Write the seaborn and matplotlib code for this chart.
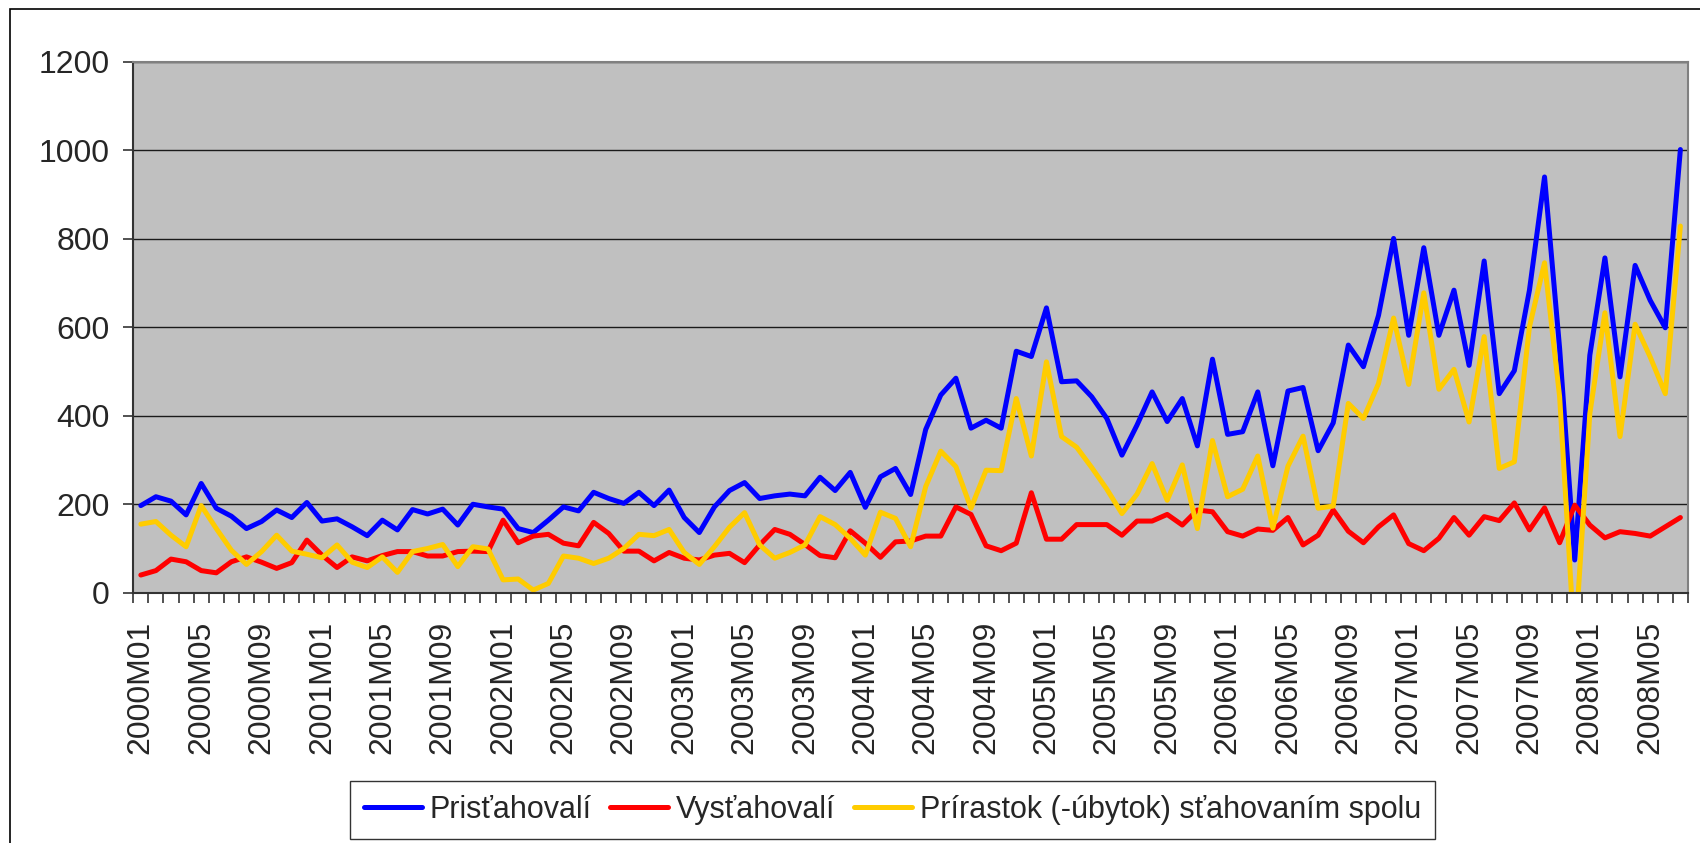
import numpy as np
import pandas as pd
import matplotlib
matplotlib.use("Agg")
import matplotlib.pyplot as plt
from matplotlib.patches import Rectangle
import seaborn as sns

# monthly values 2000M01 .. 2008M07
prist = [197, 217, 207, 176, 247, 191, 173, 145, 161, 187, 170, 204,
         162, 167, 149, 129, 164, 142, 188, 178, 189, 153, 200, 194,
         189, 145, 136, 164, 194, 185, 227, 213, 202, 227, 197, 232,
         170, 136, 194, 231, 249, 213, 219, 223, 219, 261, 231, 272,
         193, 262, 281, 222, 369, 447, 485, 372, 390, 372, 546, 534,
         644, 477, 479, 443, 394, 311, 379, 454, 387, 439, 332, 528,
         358, 364, 454, 287, 456, 464, 321, 384, 560, 511, 627, 801,
         582, 780, 582, 684, 514, 750, 450, 502, 684, 940, 552, 74,
         537, 757, 488, 740, 661, 599, 1002]
vyst = [40, 50, 76, 70, 50, 45, 70, 81, 69, 55, 68, 119,
        85, 57, 81, 72, 84, 93, 93, 83, 83, 93, 94, 93,
        164, 113, 128, 132, 112, 106, 159, 134, 94, 94, 72, 91,
        78, 74, 85, 89, 68, 108, 143, 132, 109, 84, 79, 140,
        112, 80, 115, 117, 128, 128, 194, 177, 106, 95, 112, 226,
        121, 121, 154, 154, 154, 130, 162, 162, 177, 153, 187, 183,
        138, 128, 144, 141, 170, 108, 130, 187, 139, 113, 149, 176,
        111, 95, 123, 170, 130, 172, 163, 203, 142, 192, 113, 198,
        153, 124, 138, 134, 128, 149, 170]
prirastok = [155, 161, 130, 104, 197, 145, 96, 64, 93, 130, 94, 87,
             79, 108, 69, 57, 81, 46, 93, 100, 109, 59, 104, 99,
             29, 31, 6, 21, 83, 78, 66, 78, 100, 132, 129, 143,
             91, 64, 104, 148, 181, 108, 78, 91, 108, 172, 154, 123,
             85, 182, 168, 104, 240, 320, 285, 191, 277, 276, 439, 309,
             522, 353, 329, 283, 234, 179, 223, 292, 209, 289, 145, 344,
             217, 234, 309, 146, 286, 354, 191, 196, 428, 394, 473, 621,
             471, 678, 460, 505, 386, 579, 281, 296, 601, 746, 443, -124,
             405, 633, 353, 607, 533, 450, 829]

tick_labels = ["2000M01", "2000M05", "2000M09", "2001M01", "2001M05", "2001M09",
               "2002M01", "2002M05", "2002M09", "2003M01", "2003M05", "2003M09",
               "2004M01", "2004M05", "2004M09", "2005M01", "2005M05", "2005M09",
               "2006M01", "2006M05", "2006M09", "2007M01", "2007M05", "2007M09",
               "2008M01", "2008M05"]

series = ["Prisťahovalí", "Vysťahovalí", "Prírastok (-úbytok) sťahovaním spolu"]
colors = ["#0000FF", "#FF0000", "#FFCC00"]

n = len(prist)
df = pd.DataFrame({
    "i": np.tile(np.arange(n), 3),
    "value": prist + vyst + prirastok,
    "series": np.repeat(series, n),
})

sns.set_style("white")
plt.rcParams["font.family"] = ["Liberation Sans", "DejaVu Sans"]

fig = plt.figure(figsize=(17, 8.43), dpi=100)
ax = fig.add_axes([0.0784, 0.2969, 0.9145, 0.6296])
ax.set_facecolor("#C0C0C0")

sns.lineplot(data=df, x="i", y="value", hue="series", hue_order=series,
             palette=colors, linewidth=3.6, ax=ax, legend=True)

ax.set_xlim(-0.5, n - 0.5)
ax.set_ylim(0, 1200)
ax.set_yticks(np.arange(0, 1201, 200))
ax.yaxis.grid(True, color="#1a1a1a", linewidth=1.0)
ax.set_axisbelow(True)
ax.tick_params(axis="y", which="major", length=7, width=1.2, color="#333333",
               labelsize=23, pad=10, left=True)

# tick marks at category boundaries, labels centred every 4 months
ax.set_xticks(np.arange(-0.5, n, 1))
ax.set_xticklabels([])
ax.tick_params(axis="x", which="major", length=7, width=1.2, color="#333333",
               bottom=True, direction="out")
ax.set_xticks(np.arange(0, n, 4), tick_labels, minor=True)
ax.tick_params(axis="x", which="minor", length=0, labelsize=23, pad=20,
               labelrotation=90)

ax.set_xlabel("")
ax.set_ylabel("")
for s in ["left", "bottom"]:
    ax.spines[s].set_color("#333333")
    ax.spines[s].set_linewidth(1.5)
for s in ["top", "right"]:
    ax.spines[s].set_color("#808080")
    ax.spines[s].set_linewidth(1.5)

leg = ax.legend(loc="center", bbox_to_anchor=(0.525, 0.039),
                bbox_transform=fig.transFigure, ncol=3, fontsize=22,
                frameon=True, fancybox=False, edgecolor="black",
                handlelength=1.9, handletextpad=0.25, columnspacing=0.6,
                borderpad=0.45)
leg.get_frame().set_linewidth(1.0)
for line in leg.get_lines():
    line.set_linewidth(3.6)

fig.patches.append(Rectangle((10 / 1700, -0.1), 1.2, 1 - 9 / 843 + 0.1,
                             transform=fig.transFigure, fill=False,
                             edgecolor="black", linewidth=1.2))

fig.savefig("out.png", dpi=100)
